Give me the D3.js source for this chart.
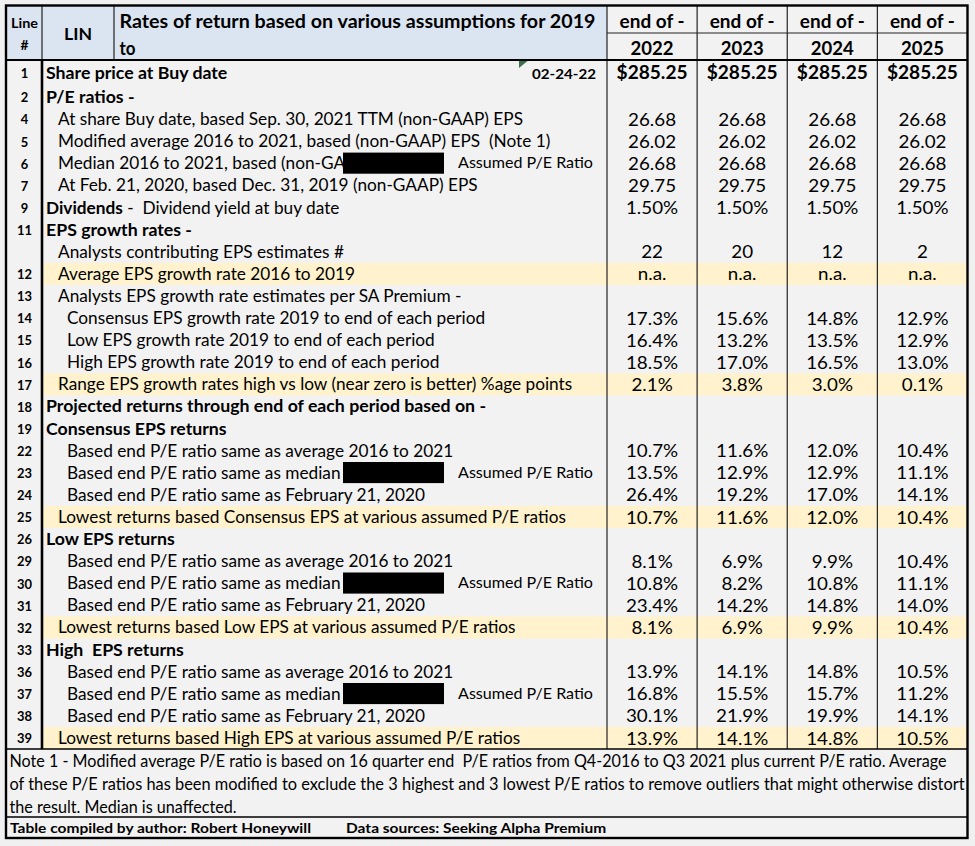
<!DOCTYPE html>
<html><head><meta charset="utf-8">
<script src="https://cdn.jsdelivr.net/npm/d3@7"></script>
<style>body{margin:0;background:#f0f0f0}svg{display:block}text{white-space:pre}</style>
</head><body><svg id="c" width="975" height="846"></svg>
<script>
// ---------------- data ----------------
const years = ["2022", "2023", "2024", "2025"];
const headerTop = "end of -";
const ticker = "LIN";
const titleLines = ["Rates of return based on various assumptions for 2019", "to"];
const lineHeader = ["Line", "#"];
const buyDate = "02-24-22";
const assumedNote = "Assumed P/E Ratio";
const lineNums = ["1","2","4","5","6","7","9","11","","12","13","14","15","16","17","18","19","22","23","24","25","26","29","30","31","32","33","36","37","38","39"];
const labels = [
  "Share price at Buy date",
  "P/E ratios -",
  "At share Buy date, based Sep. 30, 2021 TTM (non-GAAP) EPS",
  "Modified average 2016 to 2021, based (non-GAAP) EPS  (Note 1)",
  "Median 2016 to 2021, based (non-GA",
  "At Feb. 21, 2020, based Dec. 31, 2019 (non-GAAP) EPS",
  "Dividends| -  Dividend yield at buy date",
  "EPS growth rates -",
  "Analysts contributing EPS estimates #",
  "Average EPS growth rate 2016 to 2019",
  "Analysts EPS growth rate estimates per SA Premium -",
  "Consensus EPS growth rate 2019 to end of each period",
  "Low EPS growth rate 2019 to end of each period",
  "High EPS growth rate 2019 to end of each period",
  "Range EPS growth rates high vs low (near zero is better) %age points",
  "Projected returns through end of each period based on -",
  "Consensus EPS returns",
  "Based end P/E ratio same as average 2016 to 2021",
  "Based end P/E ratio same as median",
  "Based end P/E ratio same as February 21, 2020",
  "Lowest returns based Consensus EPS at various assumed P/E ratios",
  "Low EPS returns",
  "Based end P/E ratio same as average 2016 to 2021",
  "Based end P/E ratio same as median",
  "Based end P/E ratio same as February 21, 2020",
  "Lowest returns based Low EPS at various assumed P/E ratios",
  "High  EPS returns",
  "Based end P/E ratio same as average 2016 to 2021",
  "Based end P/E ratio same as median",
  "Based end P/E ratio same as February 21, 2020",
  "Lowest returns based High EPS at various assumed P/E ratios"
];
const levels = [0,0,1,1,1,1,0,0,1,1,1,2,2,2,1,0,0,2,2,2,1,0,2,2,2,1,0,2,2,2,1];
const highlightRows = ["12","17","25","32","39"];
const redactedRows = ["6","23","30","37"];
const v2022 = ["$285.25","","26.68","26.02","26.68","29.75","1.50%","","22","n.a.","","17.3%","16.4%","18.5%","2.1%","","","10.7%","13.5%","26.4%","10.7%","","8.1%","10.8%","23.4%","8.1%","","13.9%","16.8%","30.1%","13.9%"];
const v2023 = ["$285.25","","26.68","26.02","26.68","29.75","1.50%","","20","n.a.","","15.6%","13.2%","17.0%","3.8%","","","11.6%","12.9%","19.2%","11.6%","","6.9%","8.2%","14.2%","6.9%","","14.1%","15.5%","21.9%","14.1%"];
const v2024 = ["$285.25","","26.68","26.02","26.68","29.75","1.50%","","12","n.a.","","14.8%","13.5%","16.5%","3.0%","","","12.0%","12.9%","17.0%","12.0%","","9.9%","10.8%","14.8%","9.9%","","14.8%","15.7%","19.9%","14.8%"];
const v2025 = ["$285.25","","26.68","26.02","26.68","29.75","1.50%","","2","n.a.","","12.9%","12.9%","13.0%","0.1%","","","10.4%","11.1%","14.1%","10.4%","","10.4%","11.1%","14.0%","10.4%","","10.5%","11.2%","14.1%","10.5%"];
const notes = [
  "Note 1 - Modified average P/E ratio is based on 16 quarter end  P/E ratios from Q4-2016 to Q3 2021 plus current P/E ratio. Average",
  "of these P/E ratios has been modified to exclude the 3 highest and 3 lowest P/E ratios to remove outliers that might otherwise distort",
  "the result. Median is unaffected."
];
const credits = ["Table compiled by author: Robert Honeywill", "Data sources: Seeking Alpha Premium"];

// ---------------- layout ----------------
const values = [v2022, v2023, v2024, v2025];
const FONT = "Lato, 'Open Sans', sans-serif";
const svg = d3.select("#c");
const L = 6, R = 967.5, T = 5.5, HM = 33, HB = 60, R0B = 86, BB = 749, NB = 817, B = 838;
const xLine = 42, xLin = 114, xV = 607;
const indent = [46, 58, 67];

const x = d3.scaleBand().domain(years).range([xV, R]);
const y = d3.scaleBand().domain(d3.range(1, lineNums.length)).range([R0B, BB]);
const rowTop = i => i === 0 ? HB : y(i);
const rowH = i => i === 0 ? R0B - HB : y.bandwidth();
const rowMid = i => rowTop(i) + rowH(i) / 2;

const ST = {
  title: {size: 18, bold: true, calib: titleLines[0], target: 476},
  label: {size: 17, bold: false, calib: labels[2], target: 465},
  labelB: {size: 17, bold: true, calib: labels[15], target: 440},
  value: {size: 18, bold: false, calib: "26.68", target: 48},
  valueB: {size: 18.5, bold: true, calib: "$285.25", target: 71},
  head: {size: 18.5, bold: true, calib: headerTop, target: 65},
  lineNo: {size: 13, bold: true, calib: "39", target: 15},
  note: {size: 16.3, bold: false, calib: notes[0], target: 937},
  credit: {size: 14, bold: true, calib: credits[0], target: 301},
  assumed: {size: 15.3, bold: false, calib: assumedNote, target: 135},
  date: {size: 14, bold: true, calib: buyDate, target: 64},
  lin: {size: 17.7, bold: true, calib: ticker, target: 28},
  lineHdr: {size: 14, bold: true, calib: lineHeader[0], target: 27}
};
function styleText(sel, st) {
  sel.attr("font-family", FONT).attr("font-size", st.size)
     .attr("font-weight", st.bold ? 700 : 400).attr("fill", "#000");
}
for (const k in ST) {
  const st = ST[k];
  const t = svg.append("text").call(styleText, st).text(st.calib);
  st.k = st.target / t.node().getComputedTextLength();
  t.remove();
}
function squeeze(sel, st, target) {
  sel.each(function() {
    const w = this.getComputedTextLength();
    if (w > 0) d3.select(this).attr("textLength", target != null ? target : w * st.k)
      .attr("lengthAdjust", "spacingAndGlyphs");
  });
}
function txt(g, st, s, xx, yy, anchor, target) {
  const t = g.append("text").call(styleText, st).attr("x", xx).attr("y", yy)
    .attr("text-anchor", anchor || "start").text(s);
  squeeze(t, st, target);
  return t;
}

// ---------------- backgrounds ----------------
svg.append("rect").attr("width", 975).attr("height", 846).attr("fill", "#f0f0f0");
svg.append("rect").attr("x", L).attr("y", T).attr("width", R - L).attr("height", B - T).attr("fill", "#f2f2f2");
svg.append("rect").attr("x", L).attr("y", T).attr("width", xV - L).attr("height", HB - T).attr("fill", "#dbe5f1");

const body = svg.append("g");
lineNums.forEach((n, i) => {
  if (highlightRows.includes(n)) {
    body.append("rect").attr("x", xLine).attr("y", rowTop(i)).attr("width", R - xLine)
      .attr("height", rowH(i)).attr("fill", "#fff2cc");
  }
});

// ---------------- grid lines ----------------
const line = (x1, y1, x2, y2, w, c) => svg.append("line").attr("x1", x1).attr("y1", y1)
  .attr("x2", x2).attr("y2", y2).attr("stroke", c || "#000").attr("stroke-width", w);
line(xLine, T, xLine, HB, 1.2, "#222");
line(xLin, T, xLin, HB, 1.2, "#222");
line(xLine, HB, xLine, BB, 2.6);
years.forEach((yr, j) => line(x(yr), T, x(yr), BB, 1.2, "#222"));
line(xV, HM, R, HM, 1.2, "#222");
line(L, HB, R, HB, 1.8);
line(L, BB, R, BB, 1.6);
line(L, NB, R, NB, 1.6);
svg.append("rect").attr("x", L).attr("y", T).attr("width", R - L).attr("height", B - T)
  .attr("fill", "none").attr("stroke", "#000").attr("stroke-width", 2.4);

// ---------------- header ----------------
const hg = svg.append("g");
txt(hg, ST.lineHdr, lineHeader[0], 24.5, 28.3, "middle");
txt(hg, ST.lineHdr, lineHeader[1], 24.5, 50, "middle", 8);
txt(hg, ST.lin, ticker, (xLine + xLin) / 2, 39.5, "middle");
txt(hg, ST.title, titleLines[0], 119.5, 28);
txt(hg, ST.title, titleLines[1], 119.5, 55, "start", 16);
years.forEach(yr => {
  const cx = x(yr) + x.bandwidth() / 2;
  txt(hg, ST.head, headerTop, cx, 27.5, "middle");
  txt(hg, ST.head, yr, cx, 55, "middle", 43);
});

// ---------------- body ----------------
lineNums.forEach((n, i) => {
  const cy = rowMid(i);
  if (n) txt(body, ST.lineNo, n, 24.5, cy + 5.3, "middle");
  const lab = labels[i];
  const lx = indent[levels[i]];
  if (lab.includes("|")) {
    const [b, r] = lab.split("|");
    const t = body.append("text").call(styleText, ST.label).attr("x", lx).attr("y", cy + 6);
    t.append("tspan").attr("font-weight", 700).text(b);
    t.append("tspan").text(r);
    squeeze(t, ST.label);
  } else {
    const st = levels[i] === 0 ? ST.labelB : ST.label;
    txt(body, st, lab, lx, cy + 6);
  }
  if (redactedRows.includes(n)) {
    body.append("rect").attr("x", 343).attr("y", rowTop(i) + 0.3).attr("width", 101)
      .attr("height", rowH(i) - 1).attr("fill", "#000");
    txt(body, ST.assumed, assumedNote, 458, cy + 5);
  }
  years.forEach((yr, j) => {
    const v = values[j][i];
    if (!v) return;
    const st = i === 0 ? ST.valueB : ST.value;
    txt(body, st, v, x(yr) + x.bandwidth() / 2, i === 0 ? 79 : cy + 6.6, "middle");
  });
});
txt(body, ST.date, buyDate, 596, 79.3, "end");
body.append("path").attr("d", "M519,61L527.5,61L519,68Z").attr("fill", "#3a6e4c");

// ---------------- footer ----------------
const fg = svg.append("g");
const noteBase = [766.5, 789.5, 812.5];
const noteTarget = [937, 955, null];
notes.forEach((s, i) => txt(fg, ST.note, s, 9.5, noteBase[i], "start", noteTarget[i]));
txt(fg, ST.credit, credits[0], 10, 833);
txt(fg, ST.credit, credits[1], 346, 833);
</script></body></html>
